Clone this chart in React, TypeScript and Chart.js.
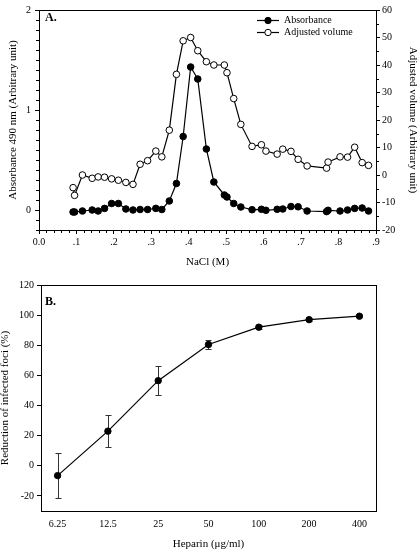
import React, { useEffect, useRef } from 'react';
import { Chart, registerables } from 'chart.js';

Chart.register(...registerables);

// ---------- Panel A data ----------
const nacl = [
  0.091, 0.095, 0.116, 0.142, 0.158, 0.175, 0.194, 0.212, 0.232, 0.251,
  0.27, 0.29, 0.312, 0.328, 0.348, 0.367, 0.385, 0.405, 0.424, 0.447,
  0.467, 0.495, 0.502, 0.52, 0.539, 0.569, 0.594, 0.606, 0.636, 0.651,
  0.673, 0.692, 0.716, 0.768, 0.772, 0.804, 0.824, 0.843, 0.863, 0.88,
];
const absorbance = [
  -0.02, -0.02, -0.01, 0, -0.01, 0.016, 0.065, 0.065, 0.01, 0,
  0.005, 0.005, 0.016, 0.005, 0.09, 0.265, 0.735, 1.43, 1.31, 0.61,
  0.28, 0.15, 0.13, 0.065, 0.03, 0.003, 0.007, -0.003, 0.007, 0.01,
  0.035, 0.032, -0.01, -0.016, -0.003, -0.01, 0, 0.016, 0.02, -0.01,
];
const adjustedVolume = [
  -4.6, -7.4, 0, -1.2, -0.7, -0.8, -1.4, -1.9, -2.7, -3.4,
  3.9, 5.2, 8.7, 6.6, 16.3, 36.6, 48.8, 50, 45.2, 41.2,
  40, 40, 37.2, 27.8, 18.4, 10.4, 11, 8.7, 7.6, 9.4,
  8.6, 5.7, 3.3, 2.5, 4.7, 6.6, 6.5, 10.1, 4.5, 3.5,
];
const absTicks = [0, 1, 2];
const volTicks = [-20, -10, 0, 10, 20, 30, 40, 50, 60];

// ---------- Panel B data ----------
const heparin = [6.25, 12.5, 25, 50, 100, 200, 400];
const heparinLabels = ['6.25', '12.5', '25', '50', '100', '200', '400'];
const reduction = [-6.5, 23, 56.5, 80.5, 92, 97, 99.3];
const reductionErr = [15, 10.6, 9.5, 3.3, 1.5, 0.8, 0.5];
const reductionTicks = [-20, 0, 20, 40, 60, 80, 100, 120];

const SERIF = "'Liberation Serif', 'DejaVu Serif', serif";
Chart.defaults.font.family = SERIF;
Chart.defaults.color = '#000';

const framePlugin = {
  id: 'frame',
  afterDraw(chart: any) {
    const { ctx, chartArea: a } = chart;
    ctx.save();
    ctx.strokeStyle = '#000';
    ctx.lineWidth = 1;
    ctx.strokeRect(Math.round(a.left) + 0.5, Math.round(a.top) + 0.5,
      Math.round(a.right - a.left), Math.round(a.bottom - a.top));
    ctx.restore();
  },
};

function makeMinorTicks(steps: Record<string, number>) {
  return {
    id: 'minorTicks',
    afterDraw(chart: any) {
      const { ctx } = chart;
      ctx.save();
      ctx.strokeStyle = '#000';
      ctx.lineWidth = 1;
      Object.keys(steps).forEach((id) => {
        const step = steps[id];
        const s = chart.scales[id];
        if (!s) return;
        const majors = s.ticks.map((t: any) => t.value);
        const n0 = Math.ceil(s.min / step - 1e-6);
        const n1 = Math.floor(s.max / step + 1e-6);
        for (let n = n0; n <= n1; n++) {
          const v = n * step;
          if (majors.some((m: number) => Math.abs(m - v) < step / 10)) continue;
          const p = Math.round(s.getPixelForValue(v)) + 0.5;
          ctx.beginPath();
          if (s.position === 'bottom') {
            ctx.moveTo(p, chart.chartArea.bottom); ctx.lineTo(p, chart.chartArea.bottom + 3);
          } else if (s.position === 'left') {
            ctx.moveTo(chart.chartArea.left, p); ctx.lineTo(chart.chartArea.left - 3, p);
          } else if (s.position === 'right') {
            ctx.moveTo(chart.chartArea.right, p); ctx.lineTo(chart.chartArea.right + 3, p);
          }
          ctx.stroke();
        }
      });
      ctx.restore();
    },
  };
}

const legendAPlugin = {
  id: 'legendA',
  afterDraw(chart: any) {
    const { ctx } = chart;
    ctx.save();
    ctx.font = `10px ${SERIF}`;
    ctx.textBaseline = 'middle';
    ctx.textAlign = 'left';
    ctx.fillStyle = '#000';
    const rows = [
      { y: 20.5, label: 'Absorbance', fill: '#000' },
      { y: 32.5, label: 'Adjusted volume', fill: '#fff' },
    ];
    rows.forEach((r) => {
      ctx.strokeStyle = '#000';
      ctx.lineWidth = 1.2;
      ctx.beginPath();
      ctx.moveTo(257, r.y); ctx.lineTo(279, r.y);
      ctx.stroke();
      ctx.beginPath();
      ctx.arc(268, r.y, 3.2, 0, Math.PI * 2);
      ctx.fillStyle = r.fill;
      ctx.fill();
      ctx.lineWidth = 1;
      ctx.stroke();
      ctx.fillStyle = '#000';
      ctx.fillText(r.label, 284, r.y);
    });
    ctx.font = `bold 12px ${SERIF}`;
    ctx.fillText('A.', 45, 17.5);
    ctx.restore();
  },
};

const errorBarPlugin = {
  id: 'errorBars',
  beforeDatasetsDraw(chart: any) {
    const { ctx } = chart;
    const xs = chart.scales.x;
    const ys = chart.scales.y;
    ctx.save();
    ctx.strokeStyle = '#333';
    ctx.lineWidth = 1;
    heparin.forEach((h, i) => {
      const x = Math.round(xs.getPixelForValue(h)) + 0.5;
      const yt = Math.round(ys.getPixelForValue(reduction[i] + reductionErr[i])) + 0.5;
      const yb = Math.round(ys.getPixelForValue(reduction[i] - reductionErr[i])) + 0.5;
      ctx.beginPath();
      ctx.moveTo(x, yt); ctx.lineTo(x, yb);
      ctx.moveTo(x - 3, yt); ctx.lineTo(x + 3, yt);
      ctx.moveTo(x - 3, yb); ctx.lineTo(x + 3, yb);
      ctx.stroke();
    });
    ctx.font = `bold 12px ${SERIF}`;
    ctx.fillStyle = '#000';
    ctx.textBaseline = 'middle';
    ctx.fillText('B.', 45, 30);
    ctx.restore();
  },
};

function ChartA() {
  const ref = useRef<HTMLCanvasElement>(null);
  useEffect(() => {
    const chart = new Chart(ref.current!, {
      type: 'scatter',
      data: {
        datasets: [
          {
            label: 'Absorbance',
            data: nacl.map((x, i) => ({ x, y: absorbance[i] })),
            yAxisID: 'y',
            showLine: true,
            borderColor: '#000',
            borderWidth: 1.2,
            pointRadius: 3.3,
            pointBackgroundColor: '#000',
            pointBorderColor: '#000',
            pointBorderWidth: 1,
          },
          {
            label: 'Adjusted volume',
            data: nacl.map((x, i) => ({ x, y: adjustedVolume[i] })),
            yAxisID: 'y1',
            showLine: true,
            borderColor: '#000',
            borderWidth: 1.2,
            pointRadius: 3.3,
            pointBackgroundColor: '#fff',
            pointBorderColor: '#000',
            pointBorderWidth: 1,
          },
        ],
      },
      options: {
        responsive: false,
        animation: false,
        layout: { padding: { top: 3, left: 0, right: 0, bottom: 2 } },
        plugins: {
          legend: { display: false },
          tooltip: { enabled: false },
        },
        scales: {
          x: {
            type: 'linear',
            min: 0,
            max: 0.9,
            afterFit: (s: any) => { s.height = 40; },
            ticks: {
              stepSize: 0.1,
              padding: 2,
              font: { size: 10 },
              color: '#000',
              callback: (v: any) => {
                const n = Math.round(Number(v) * 10);
                return n === 0 ? '0.0' : '.' + n;
              },
            },
            grid: { drawOnChartArea: false, drawTicks: true, tickLength: 4, color: '#000' },
            border: { display: false },
            title: { display: true, text: 'NaCl (M)', font: { size: 11 }, color: '#000', padding: { top: 0, bottom: 1 } },
          },
          y: {
            type: 'linear',
            position: 'left',
            min: -0.2,
            max: 2,
            afterFit: (s: any) => { s.width = 39; },
            afterBuildTicks: (s: any) => { s.ticks = absTicks.map((v) => ({ value: v })); },
            ticks: { padding: 4, font: { size: 10 }, color: '#000', callback: (v: any) => String(v) },
            grid: { drawOnChartArea: false, drawTicks: true, tickLength: 4, color: '#000' },
            border: { display: false },
            title: { display: true, text: 'Absorbance 490 nm (Arbitrary unit)', font: { size: 11 }, color: '#000', padding: { top: 7, bottom: 0 } },
          },
          y1: {
            type: 'linear',
            position: 'right',
            min: -20,
            max: 60,
            afterFit: (s: any) => { s.width = 41; },
            afterBuildTicks: (s: any) => { s.ticks = volTicks.map((v) => ({ value: v })); },
            ticks: { padding: 2, font: { size: 10 }, color: '#000', callback: (v: any) => String(v) },
            grid: { drawOnChartArea: false, drawTicks: true, tickLength: 4, color: '#000' },
            border: { display: false },
            title: { display: true, text: 'Adjusted volume (Arbitrary unit)', font: { size: 11 }, color: '#000', padding: { top: -2, bottom: 0 } },
          },
        },
      },
      plugins: [framePlugin, makeMinorTicks({ x: 0.02, y: 0.1, y1: 5 }), legendAPlugin],
    });
    return () => chart.destroy();
  }, []);
  return <canvas ref={ref} width={417} height={272} style={{ display: 'block', width: 417, height: 272 }} />;
}

function ChartB() {
  const ref = useRef<HTMLCanvasElement>(null);
  useEffect(() => {
    const chart = new Chart(ref.current!, {
      type: 'scatter',
      data: {
        datasets: [
          {
            label: 'Reduction of infected foci',
            data: heparin.map((x, i) => ({ x, y: reduction[i] })),
            showLine: true,
            borderColor: '#000',
            borderWidth: 1.2,
            pointRadius: 3.2,
            pointBackgroundColor: '#000',
            pointBorderColor: '#000',
            pointBorderWidth: 1,
          },
        ],
      },
      options: {
        responsive: false,
        animation: false,
        layout: { padding: { top: 13, left: 0, right: 41, bottom: 0 } },
        plugins: {
          legend: { display: false },
          tooltip: { enabled: false },
        },
        scales: {
          x: {
            type: 'logarithmic',
            min: 6.25 / Math.pow(2, 0.33),
            max: 400 * Math.pow(2, 0.33),
            afterFit: (s: any) => { s.height = 39; },
            afterBuildTicks: (s: any) => { s.ticks = heparin.map((v) => ({ value: v })); },
            ticks: {
              padding: 7,
              font: { size: 10 },
              color: '#000',
              autoSkip: false,
              maxRotation: 0,
              callback: (v: any) => {
                const i = heparin.indexOf(Number(v));
                return i >= 0 ? heparinLabels[i] : '';
              },
            },
            grid: { display: true, drawOnChartArea: false, drawTicks: false, color: '#000' },
            border: { display: false },
            title: { display: true, text: 'Heparin (\u03bcg/ml)', font: { size: 11 }, color: '#000', padding: { top: 0, bottom: -1 } },
          },
          y: {
            type: 'linear',
            position: 'left',
            min: -30,
            max: 120,
            afterFit: (s: any) => { s.width = 41; },
            afterBuildTicks: (s: any) => { s.ticks = reductionTicks.map((v) => ({ value: v })); },
            ticks: { padding: 3, font: { size: 10 }, color: '#000', callback: (v: any) => String(v) },
            grid: { drawOnChartArea: false, drawTicks: true, tickLength: 4, color: '#000' },
            border: { display: false },
            title: { display: true, text: 'Reduction of infected foci (%)', font: { size: 11 }, color: '#000', padding: { top: -1.5, bottom: 0 } },
          },
        },
      },
      plugins: [framePlugin, errorBarPlugin],
    });
    return () => chart.destroy();
  }, []);
  return <canvas ref={ref} width={417} height={278} style={{ display: 'block', width: 417, height: 278 }} />;
}

export default function App() {
  return (
    <div style={{ position: 'absolute', left: 0, top: 0, width: 417, height: 550, overflow: 'hidden', background: '#fff' }}>
      <ChartA />
      <ChartB />
    </div>
  );
}
